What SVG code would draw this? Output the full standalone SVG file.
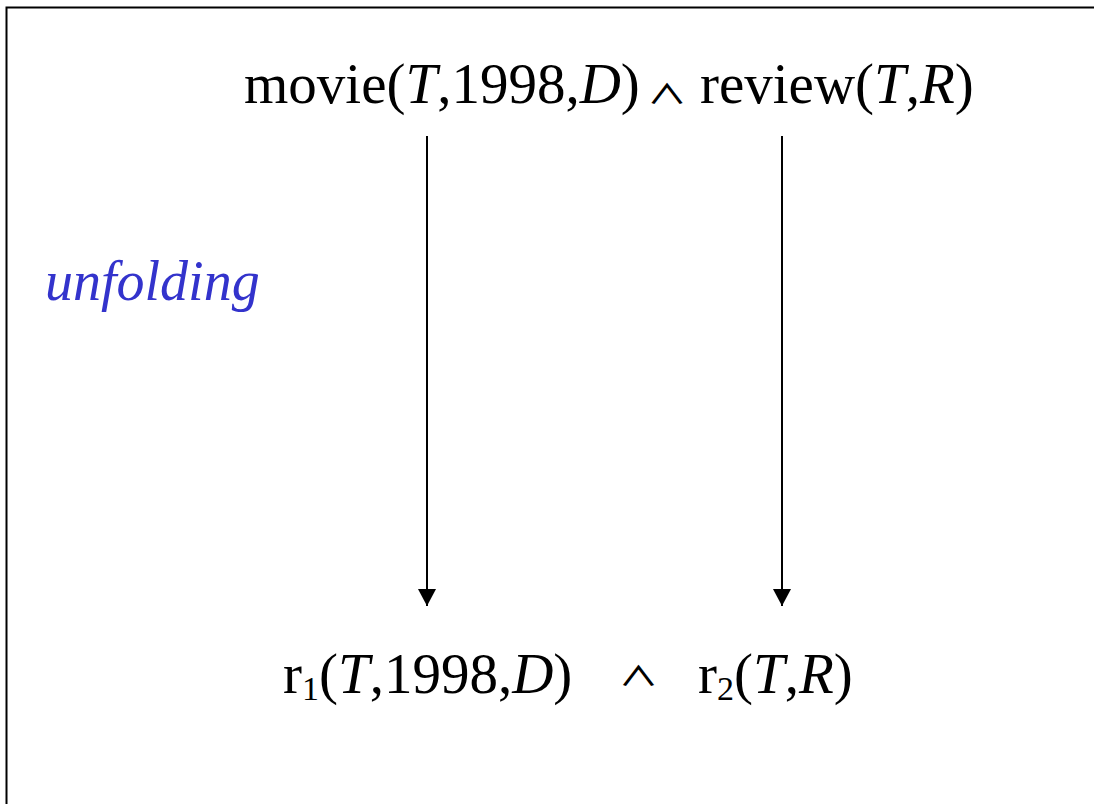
<svg xmlns="http://www.w3.org/2000/svg" width="1094" height="804" viewBox="0 0 1094 804">
<style>
.t{font-family:"Liberation Serif","Times New Roman",serif;font-size:57px;fill:#000}
.i{font-style:italic}
.sub{font-size:34px}
.w{font-family:"Noto Sans CJK JP",sans-serif;font-weight:500;font-size:40px;fill:#000;text-anchor:middle}
.lbl{font-family:"Liberation Serif","Times New Roman",serif;font-size:56px;font-style:italic;fill:#3333cc}
.edge{stroke:#000;stroke-width:2;fill:none;marker-end:url(#ah)}
</style>
<defs>
<marker id="ah" markerUnits="userSpaceOnUse" markerWidth="20" markerHeight="20" refX="17" refY="9" orient="auto">
<path d="M0,0 L17,9 L0,18 Z" fill="#000"/>
</marker>
</defs>
<rect x="0" y="0" width="1094" height="804" fill="#fff"/>
<path d="M6.5,804 V7.5 H1094" stroke="#000" stroke-width="2" fill="none"/>
<g id="query">
<text class="t" x="244" y="103">movie(<tspan class="i">T</tspan>,1998,<tspan class="i">D</tspan>)</text>
<text class="w" transform="translate(667,104) scale(1,0.68)">∧</text>
<text class="t" x="700" y="103">review(<tspan class="i">T</tspan>,<tspan class="i">R</tspan>)</text>
</g>
<g id="unfolded">
<text class="t" x="283" y="693">r<tspan class="sub" dy="7">1</tspan><tspan dy="-7">(</tspan><tspan class="i">T</tspan>,1998,<tspan class="i">D</tspan>)</text>
<text class="w" transform="translate(638.5,686) scale(1,0.68)">∧</text>
<text class="t" x="698" y="693">r<tspan class="sub" dy="7">2</tspan><tspan dy="-7">(</tspan><tspan class="i">T</tspan>,<tspan class="i">R</tspan>)</text>
</g>
<g id="label">
<text class="lbl" x="45" y="300">unfolding</text>
</g>
<g id="connectors">
<line class="edge" x1="427" y1="136" x2="427" y2="606"/>
<line class="edge" x1="782" y1="136" x2="782" y2="606"/>
</g>
</svg>
